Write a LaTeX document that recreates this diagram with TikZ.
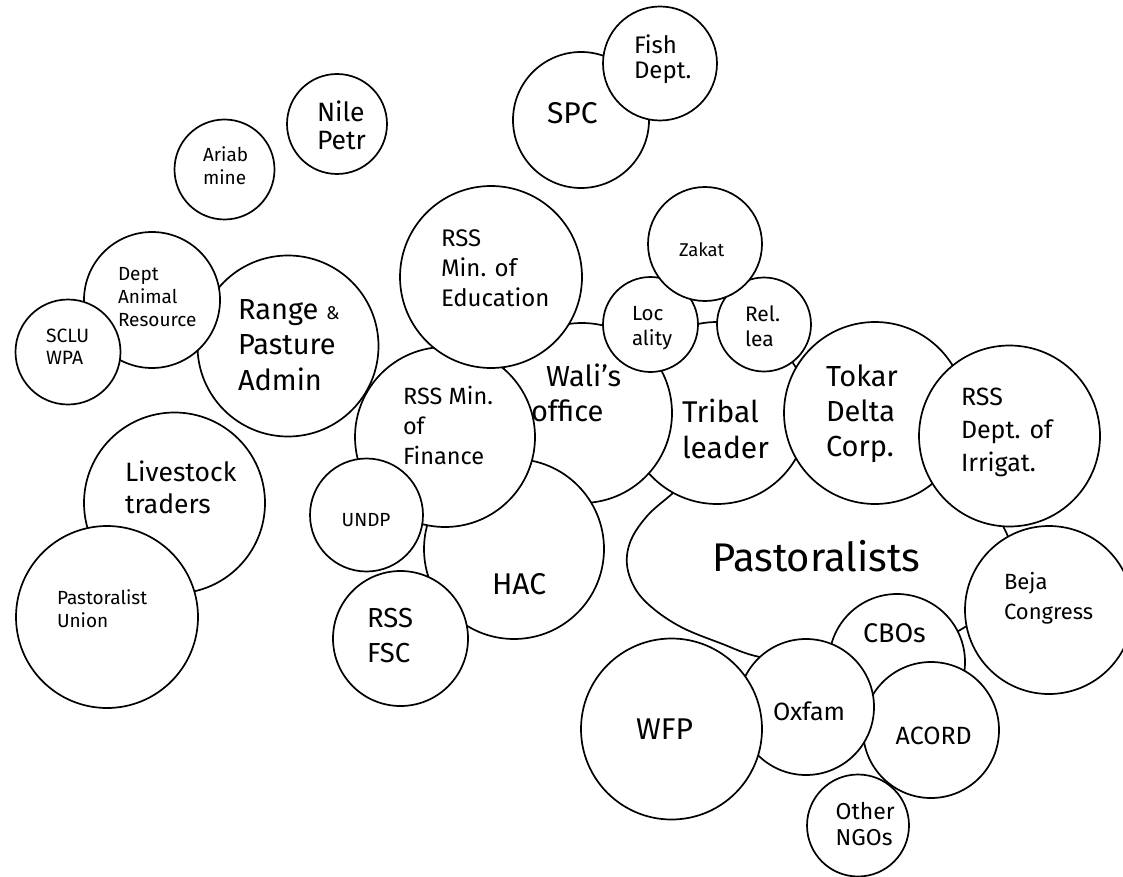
\documentclass[tikz,border=0pt]{standalone}
\usepackage{fontspec}
\setmainfont{Fira Sans}
\newcommand\fsz[2]{\fontsize{#1}{#2}\selectfont}
\tikzset{
  bub/.style={circle, draw=black, line width=1.7pt, fill=white, inner sep=0pt, outer sep=0pt},
  blob/.style={draw=black, line width=1.7pt, fill=white},
  lbl/.style={inner sep=0pt, outer sep=0pt, anchor=base west, align=left, text=black}
}
\begin{document}
\begin{tikzpicture}[x=1pt,y=-1pt]
\useasboundingbox (0,0) rectangle (1123,877);
\fill[white] (0,0) rectangle (1123,877);
\clip (0,0) rectangle (1123,877);
% label positions: base west = baseline of the LAST line
% Nile Petr
\node[bub, minimum size=100pt] (nile) at (337,124) {};
\node[lbl, font=\fsz{26.5}{28.3}] (nile-t) at (317,150) {Nile\\Petr};
% Ariab mine
\node[bub, minimum size=100pt] (ariab) at (224.5,169.5) {};
\node[lbl, font=\fsz{19}{23.3}] (ariab-t) at (203,185) {Ariab\\mine};
% Range & Pasture Admin
\node[bub, minimum size=181pt] (range) at (288,346) {};
\node[lbl, font=\fsz{29}{35.7}] (range-t) at (238,390.4) {Range {\fsz{18.5}{20}\&}\\Pasture\\Admin};
% Dept Animal Resource
\node[bub, minimum size=136pt] (dept) at (152,300) {};
\node[lbl, font=\fsz{19}{23.3}] (dept-t) at (118,326.6) {Dept\\Animal\\Resource};
% SCLU WPA
\node[bub, minimum size=105pt] (sclu) at (68,352) {};
\node[lbl, font=\fsz{19.3}{21.3}] (sclu-t) at (46,364) {SCLU\\WPA};
% Livestock traders
\node[bub, minimum size=181pt] (livestock) at (174.5,503) {};
\node[lbl, font=\fsz{26.5}{31.7}] (livestock-t) at (125,513.4) {Livestock\\traders};
% Pastoralist Union
\node[bub, minimum size=182pt] (union) at (107,617) {};
\node[lbl, font=\fsz{19}{23.7}] (union-t) at (57,627.7) {Pastoralist\\Union};
% SPC
\node[bub, minimum size=136pt] (spc) at (581,120) {};
\node[lbl, font=\fsz{30}{36}] (spc-t) at (547,124) {SPC};
% Fish Dept.
\node[bub, minimum size=114pt] (fish) at (660,63.5) {};
\node[lbl, font=\fsz{24}{25.7}] (fish-t) at (634,79) {Fish\\Dept.};
% Pastoralists
\path[blob] plot[smooth cycle, tension=0.6] coordinates {(673,493) (700,468) (780,452) (880,458) (965,482) (1005,530) (1012,575) (985,612) (940,640) (880,656) (820,663) (760,657) (720,643) (683,628) (655,610) (636,590) (627,565) (631,540) (648,515)};
\node[lbl, font=\fsz{40}{44}] (past-t) at (712,571.7) {Pastoralists};
% Tribal leader
\node[bub, minimum size=182pt] (tribal) at (717,413) {};
\node[lbl, font=\fsz{30}{35.7}] (tribal-t) at (682,458.4) {Tribal\\leader};
% Wali's office
\node[bub, minimum size=180pt] (wali) at (582,413) {};
\node[lbl, font=\fsz{29}{35}] (wali-t) at (531,421.7) {\hspace*{15pt}Wali’s\\office};
% HAC
\node[bub, minimum size=180pt] (hac) at (514,549) {};
\node[lbl, font=\fsz{30}{36}] (hac-t) at (492,594) {HAC};
% RSS Min. of Finance
\node[bub, minimum size=180pt] (finance) at (445,437) {};
\node[lbl, font=\fsz{23.5}{30}] (finance-t) at (403,464) {RSS Min.\\of\\Finance};
% RSS Min. of Education
\node[bub, minimum size=182pt] (education) at (491,277) {};
\node[lbl, font=\fsz{24}{30}] (education-t) at (441,306) {RSS\\Min. of\\Education};
% UNDP
\node[bub, minimum size=113pt] (undp) at (366.5,515) {};
\node[lbl, font=\fsz{19}{23}] (undp-t) at (341.7,526) {UNDP};
% RSS FSC
\node[bub, minimum size=135pt] (fsc) at (400.5,638.5) {};
\node[lbl, font=\fsz{27.5}{35.3}] (fsc-t) at (367,662.6) {RSS\\FSC};
% Locality
\node[bub, minimum size=95pt] (locality) at (650.5,324.5) {};
\node[lbl, font=\fsz{20.5}{25}] (locality-t) at (632,345) {Loc\\ality};
% Rel. lea
\node[bub, minimum size=94pt] (rel) at (764,324.5) {};
\node[lbl, font=\fsz{21}{25.7}] (rel-t) at (745,346.7) {Rel.\\lea};
% Zakat
\node[bub, minimum size=114pt] (zakat) at (705,244) {};
\node[lbl, font=\fsz{18.5}{22}] (zakat-t) at (679,256) {Zakat};
% Tokar Delta Corp.
\node[bub, minimum size=182pt] (tokar) at (875,413) {};
\node[lbl, font=\fsz{29}{35}] (tokar-t) at (826,456.7) {Tokar\\Delta\\Corp.};
% RSS Dept. of Irrigat.
\node[bub, minimum size=181pt] (irrig) at (1009.5,436) {};
\node[lbl, font=\fsz{25}{32.7}] (irrig-t) at (961,471.1) {RSS\\Dept. of\\Irrigat.};
% Beja Congress
\node[bub, minimum size=168pt] (beja) at (1049,610) {};
\node[lbl, font=\fsz{22}{30}] (beja-t) at (1004,619.3) {Beja\\Congress};
% CBOs
\node[bub, minimum size=136pt] (cbos) at (897,662) {};
\node[lbl, font=\fsz{27}{32}] (cbos-t) at (863,642.7) {CBOs};
% ACORD
\node[bub, minimum size=136pt] (acord) at (931,730) {};
\node[lbl, font=\fsz{25}{30}] (acord-t) at (895.7,744) {ACORD};
% Oxfam
\node[bub, minimum size=136pt] (oxfam) at (806,707) {};
\node[lbl, font=\fsz{25}{30}] (oxfam-t) at (773,720.7) {Oxfam};
% WFP
\node[bub, minimum size=181pt] (wfp) at (671.5,729) {};
\node[lbl, font=\fsz{30}{36}] (wfp-t) at (636,739) {WFP};
% Other NGOs
\node[bub, minimum size=102pt] (other) at (858,825.5) {};
\node[lbl, font=\fsz{23}{26.3}] (other-t) at (835.7,845.6) {Other\\NGOs};
\end{tikzpicture}
\end{document}
